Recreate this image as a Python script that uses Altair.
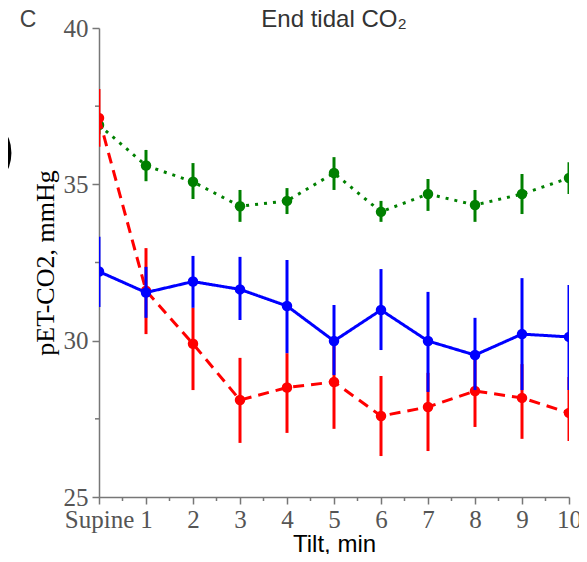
import altair as alt
import pandas as pd

minutes = list(range(11))
tick_labels = ["Supine", "1", "2", "3", "4", "5", "6", "7", "8", "9", "10"]

green_mean = [36.90, 35.60, 35.08, 34.30, 34.47, 35.36, 34.12, 34.69, 34.34, 34.69, 35.20]
green_lo = [36.60, 35.10, 34.53, 33.80, 34.05, 34.82, 33.80, 34.15, 33.80, 34.05, 34.69]
green_hi = [37.20, 36.10, 35.68, 34.82, 34.88, 35.87, 34.47, 35.17, 34.82, 35.33, 35.71]

red_mean = [37.12, 31.60, 29.90, 28.10, 28.50, 28.68, 27.59, 27.88, 28.39, 28.17, 27.69]
red_lo = [36.20, 30.21, 28.42, 26.73, 27.05, 27.18, 26.31, 26.47, 27.24, 26.86, 26.79]
red_hi = [38.05, 32.96, 31.05, 29.45, 29.60, 29.86, 28.87, 28.97, 29.45, 29.25, 28.84]

blue_mean = [32.21, 31.54, 31.89, 31.64, 31.11, 29.99, 30.98, 29.99, 29.54, 30.21, 30.12]
blue_lo = [31.08, 30.73, 31.05, 30.66, 29.60, 28.90, 29.70, 28.36, 28.42, 28.42, 28.42]
blue_hi = [33.32, 32.36, 32.71, 32.68, 32.58, 31.14, 32.29, 31.56, 30.73, 32.00, 31.78]

x_minor = [0.5, 1.5, 2.5, 3.5, 4.5, 5.5, 6.5, 7.5, 8.5, 9.5]
y_minor = [27.5, 32.5, 37.5]
y_major = [25, 30, 35, 40]

series = [
    ("green", green_mean, green_lo, green_hi, "#008000", [3, 6]),
    ("red", red_mean, red_lo, red_hi, "#ff0000", [11, 7]),
    ("blue", blue_mean, blue_lo, blue_hi, "#0000ff", [1, 0]),
]

W, H = 470, 469

label_expr = "[" + ",".join("'%s'" % t for t in tick_labels) + "][datum.value]"

xscale = alt.Scale(domain=[0, 10], nice=False, zero=False)
yscale = alt.Scale(domain=[25, 40], nice=False, zero=False)

xaxis = alt.Axis(values=minutes, labelExpr=label_expr, title="Tilt, min",
                 titleFont="Liberation Sans", titleFontSize=24, titleColor="black",
                 titleFontWeight="normal", titleY=54, titleBaseline="alphabetic",
                 labelFlush=False, labelOverlap=False, labelPadding=3)
yaxis = alt.Axis(values=y_major, title="pET-CO2, mmHg", titleFont="Liberation Serif",
                 titleFontSize=26, titleColor="black", titleFontWeight="normal",
                 titleX=-54, titleY=H / 2, titleAngle=-90, titleAlign="center",
                 titleBaseline="middle", labelPadding=4)

layers = []
for name, m, lo, hi, col, dash in series:
    df = pd.DataFrame({"t": minutes, "m": m, "lo": lo, "hi": hi})
    base = alt.Chart(df)
    line = base.mark_line(color=col, strokeWidth=3, strokeDash=dash, clip=True).encode(
        x=alt.X("t:Q", scale=xscale, axis=xaxis),
        y=alt.Y("m:Q", scale=yscale, axis=yaxis),
    )
    bars = base.mark_rule(color=col, strokeWidth=3, clip=True).encode(
        x=alt.X("t:Q", scale=xscale, axis=xaxis),
        y=alt.Y("lo:Q", scale=yscale, axis=yaxis),
        y2="hi:Q",
    )
    pts = base.mark_circle(color=col, size=110, opacity=1, clip=True).encode(
        x=alt.X("t:Q", scale=xscale, axis=xaxis),
        y=alt.Y("m:Q", scale=yscale, axis=yaxis),
    )
    layers += [line, bars, pts]

xm = alt.Chart(pd.DataFrame({"v": x_minor})).mark_rule(color="#777", strokeWidth=1.5).encode(
    x=alt.X("v:Q", scale=xscale, axis=xaxis),
    y=alt.value(H), y2=alt.value(H + 4),
)
ym = alt.Chart(pd.DataFrame({"v": y_minor})).mark_rule(color="#777", strokeWidth=1.5).encode(
    y=alt.Y("v:Q", scale=yscale, axis=yaxis),
    x=alt.value(-4), x2=alt.value(0),
)

title_txt = alt.Chart(pd.DataFrame({"s": ["End tidal CO₂"]})).mark_text(
    font="Liberation Sans", fontSize=24, color="#333", align="center", baseline="alphabetic"
).encode(text="s:N", x=alt.value(W / 2), y=alt.value(-1))

letter = alt.Chart(pd.DataFrame({"s": ["C"]})).mark_text(
    font="Liberation Sans", fontSize=23, color="#444", align="center", baseline="alphabetic"
).encode(text="s:N", x=alt.value(-71), y=alt.value(-1))

paren = alt.Chart(pd.DataFrame({"s": [")"]})).mark_text(
    font="Liberation Sans", fontSize=56, color="black", align="right", baseline="middle"
).encode(text="s:N", x=alt.value(-84), y=alt.value(122))

chart = alt.layer(xm, ym, *layers, title_txt, letter, paren).properties(
    width=W, height=H,
    padding={"left": 91, "top": 20, "right": 10, "bottom": 57},
    autosize=alt.AutoSizeParams(type="none"),
).configure_view(stroke=None).configure_axis(
    grid=False, domainColor="#777", domainWidth=1.5, tickColor="#777", tickWidth=1.5,
    tickSize=7, labelFont="Liberation Serif", labelFontSize=25, labelColor="#555",
)

chart.save("out.html", embed_options={"renderer": "svg", "actions": False})
